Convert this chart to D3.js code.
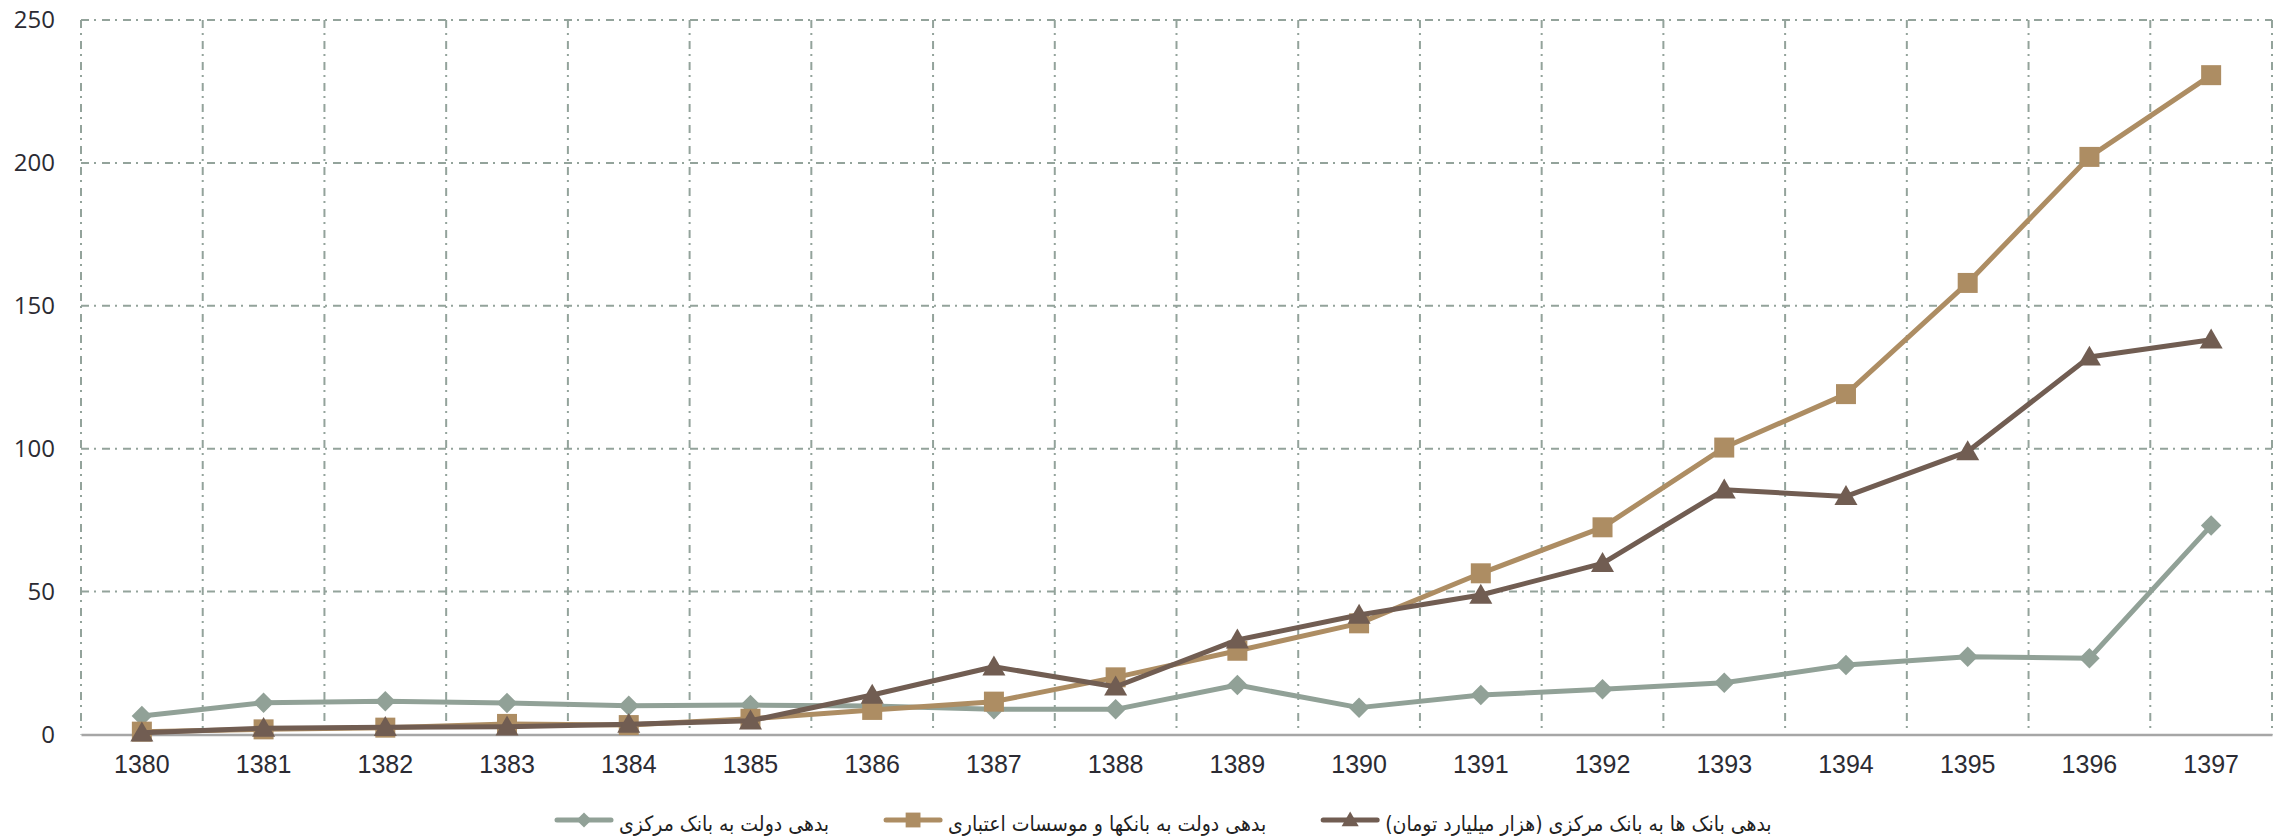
<!DOCTYPE html>
<html>
<head>
<meta charset="utf-8">
<script src="https://cdn.jsdelivr.net/npm/d3@7"></script>
<style>
  body { margin: 0; background: #fff; }
  svg { display: block; }
</style>
</head>
<body>
<div id="chart"></div>
<script>
// categories (years) and the three series, values in thousand billion toman
var years = ["1380", "1381", "1382", "1383", "1384", "1385", "1386", "1387", "1388",
             "1389", "1390", "1391", "1392", "1393", "1394", "1395", "1396", "1397"];
var govToCentral = [6.5, 11.1, 11.6, 11.0, 10.1, 10.3, 10.0, 8.8, 8.8,
                    17.3, 9.4, 13.8, 15.8, 18.1, 24.3, 27.2, 26.7, 73.1];
var govToBanks = [1.0, 1.8, 2.4, 3.7, 3.3, 5.5, 8.6, 11.5, 20.0,
                  29.3, 38.9, 56.4, 72.5, 100.4, 119.1, 158.0, 202.1, 230.7];
var banksToCentral = [0.6, 2.2, 2.5, 2.7, 3.6, 4.8, 13.8, 23.7, 16.7,
                      33.1, 41.8, 48.8, 59.9, 85.6, 83.3, 99.0, 132.1, 138.1];
var yTicks = [0, 50, 100, 150, 200, 250];
var seriesNames = ["بدهی دولت به بانک مرکزی",
                   "بدهی دولت به بانکها و موسسات اعتباری",
                   "بدهی بانک ها به بانک مرکزی (هزار میلیارد تومان)"];

// dimensions
var W = 2275, H = 840;
var margin = {top: 20, right: 3, bottom: 105.5, left: 81};
var width = W - margin.left - margin.right,
    height = H - margin.top - margin.bottom;

// diamond = square turned 45 degrees
var series = [
    {name: seriesNames[0], values: govToCentral, color: "#91a197", marker: d3.symbolSquare, size: 210, rot: 45, dy: 0},
    {name: seriesNames[1], values: govToBanks, color: "#ad8d63", marker: d3.symbolSquare, size: 400, rot: 0, dy: 0},
    {name: seriesNames[2], values: banksToCentral, color: "#715d52", marker: d3.symbolTriangle, size: 230, rot: 0, dy: 2}
];

var svg = d3.select("#chart")
    .append("svg")
    .attr("width", W)
    .attr("height", H);

var g = svg.append("g")
    .attr("transform", "translate(" + margin.left + "," + margin.top + ")");

var x = d3.scaleBand()
    .domain(years)
    .range([0, width])
    .padding(0);

var y = d3.scaleLinear()
    .domain([0, 250])
    .range([height, 0]);

var gridColor = "#93a39b";
var dash = "8,5,2,6";

// horizontal grid lines (not at zero, the axis line sits there)
g.append("g")
    .selectAll("line")
    .data(yTicks.filter(function (d) { return d > 0; }))
    .join("line")
    .attr("x1", 0)
    .attr("x2", width)
    .attr("y1", function (d) { return y(d); })
    .attr("y2", function (d) { return y(d); })
    .attr("stroke", gridColor)
    .attr("stroke-width", 2)
    .attr("stroke-dasharray", dash);

// vertical grid lines at category boundaries
var bounds = years.map(function (d) { return x(d); }).concat([width]);
g.append("g")
    .selectAll("line")
    .data(bounds)
    .join("line")
    .attr("x1", function (d) { return d; })
    .attr("x2", function (d) { return d; })
    .attr("y1", 0)
    .attr("y2", height)
    .attr("stroke", gridColor)
    .attr("stroke-width", 2)
    .attr("stroke-dasharray", dash);

// x axis
var xAxis = g.append("g")
    .attr("transform", "translate(0," + height + ")")
    .call(d3.axisBottom(x).tickSize(0).tickPadding(21));
xAxis.select(".domain")
    .attr("stroke", "#a6a6a6")
    .attr("stroke-width", 2.5);
xAxis.selectAll("text")
    .attr("font-family", "'Liberation Sans', Arial, sans-serif")
    .attr("font-size", 25)
    .attr("fill", "#2b2b33");

// y axis labels only
var yAxis = g.append("g")
    .call(d3.axisLeft(y).tickValues(yTicks).tickSize(0).tickPadding(26));
yAxis.select(".domain").remove();
yAxis.selectAll("text")
    .attr("font-family", "'Open Sans', sans-serif")
    .attr("font-size", 24)
    .attr("fill", "#2b2b33");

// lines and markers
var line = d3.line()
    .x(function (d, i) { return x(years[i]) + x.bandwidth() / 2; })
    .y(function (d) { return y(d); });

series.forEach(function (s) {
    g.append("path")
        .datum(s.values)
        .attr("fill", "none")
        .attr("stroke", s.color)
        .attr("stroke-width", 5)
        .attr("stroke-linejoin", "round")
        .attr("d", line);

    g.append("g")
        .selectAll("path")
        .data(s.values)
        .join("path")
        .attr("d", d3.symbol().type(s.marker).size(s.size))
        .attr("fill", s.color)
        .attr("transform", function (d, i) {
            var cx = x(years[i]) + x.bandwidth() / 2;
            var cy = y(d) + s.dy;
            return "translate(" + cx + "," + cy + ") rotate(" + s.rot + ")";
        });
});

// legend
var legend = svg.append("g").attr("transform", "translate(0,820)");
var lx = 557;
series.forEach(function (s) {
    var item = legend.append("g").attr("transform", "translate(" + lx + ",0)");
    item.append("line")
        .attr("x1", 0).attr("x2", 54)
        .attr("y1", 0).attr("y2", 0)
        .attr("stroke", s.color)
        .attr("stroke-width", 5)
        .attr("stroke-linecap", "round");
    item.append("path")
        .attr("d", d3.symbol().type(s.marker).size(s.size * 0.55))
        .attr("fill", s.color)
        .attr("transform", "translate(27," + (s.dy * 0.7) + ") rotate(" + s.rot + ")");
    var t = item.append("text")
        .attr("y", 11)
        .attr("font-family", "'DejaVu Sans Condensed', 'DejaVu Sans', sans-serif")
        .attr("font-size", 21)
        .attr("fill", "#222")
        .attr("direction", "rtl")
        .text(s.name);
    var tw = t.node().getComputedTextLength();
    t.attr("x", 62 + tw);
    lx += 62 + tw + 57;
});
</script>
</body>
</html>
